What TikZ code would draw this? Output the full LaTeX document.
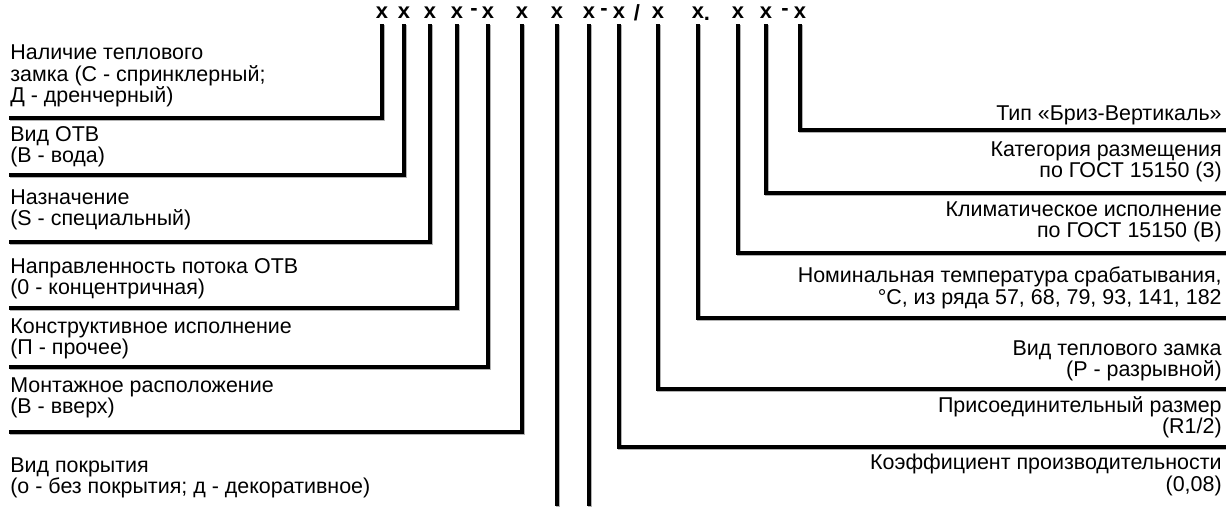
\documentclass[tikz,border=0pt]{standalone}
\usepackage{fontspec}
\setmainfont{Liberation Sans}
\tikzset{
  code/.style={font=\fontsize{12.5}{13}\selectfont\bfseries},
  lbl/.style={anchor=west, align=left, font=\fontsize{12.2}{12.2}\selectfont},
  rlbl/.style={anchor=east, align=right, font=\fontsize{12.2}{12.2}\selectfont},
  lead/.style={line width=2.2pt, line join=miter, preaction={draw=black!30, line width=2.2pt, transform canvas={shift={(0.6pt,-0.6pt)}}}},
}
\begin{document}
\begin{tikzpicture}[scale=0.2]
\tikzstyle{every node}+=[inner sep=0pt]
\useasboundingbox (0,0) rectangle (122.6,-50.6);
% code letters and T tops
\foreach \n/\x in {1/38.2,2/40.4,3/43.0,4/45.7,5/48.8,6/52.2,7/55.7,8/58.9,9/61.9,10/65.8,11/69.8,12/73.8,13/76.6,14/80.0} {
  \node [code] (x\n) at (\x,-1.3) {x};
  \coordinate (t\n) at (\x,-2.6);
  \draw [lead, line width=2.6pt] ([xshift=-6.2pt]t\n) -- ([xshift=6.2pt]t\n);
}
\node [code] (s1) at (47.4,-1.2) {-};
\node [code] (s2) at (60.4,-1.2) {-};
\node [code] (s3) at (63.7,-1.3) {/};
\node [code] (s4) at (70.7,-1.9) {.};
\node [code] (s5) at (78.5,-1.2) {-};
% left labels
\node [lbl] (zamok) at (1.0,-7.6) {Наличие теплового\\замка (С - спринклерный;\\Д - дренчерный)};
\node [lbl] (otv) at (1.0,-14.7) {Вид ОТВ\\(В - вода)};
\node [lbl] (naznach) at (1.0,-21.0) {Назначение\\(S - специальный)};
\node [lbl] (potok) at (1.0,-27.85) {Направленность потока ОТВ\\(0 - концентричная)};
\node [lbl] (konstr) at (1.0,-33.9) {Конструктивное исполнение\\(П - прочее)};
\node [lbl] (montazh) at (1.0,-39.8) {Монтажное расположение\\(В - вверх)};
\node [lbl] (pokr) at (1.0,-47.8) {Вид покрытия\\(о - без покрытия; д - декоративное)};
% right labels
\node [rlbl] (tip) at (122.2,-11.5) {Тип «Бриз-Вертикаль»};
\node [rlbl] (kateg) at (122.2,-16.2) {Категория размещения\\по ГОСТ 15150 (3)};
\node [rlbl] (klimat) at (122.2,-22.2) {Климатическое исполнение\\по ГОСТ 15150 (В)};
\node [rlbl] (temp) at (122.2,-28.8) {Номинальная температура срабатывания,\\°C, из ряда 57, 68, 79, 93, 141, 182};
\node [rlbl] (vidzamka) at (122.2,-36.1) {Вид теплового замка\\(Р - разрывной)};
\node [rlbl] (prisoed) at (122.2,-41.75) {Присоединительный размер\\(R1/2)};
\node [rlbl] (koef) at (122.2,-47.5) {Коэффициент производительности\\(0,08)};
% free ends
\coordinate (e1) at (0.9,-11.8);
\coordinate (e2) at (0.9,-17.5);
\coordinate (e3) at (0.9,-24.2);
\coordinate (e4) at (0.9,-30.8);
\coordinate (e5) at (0.9,-36.7);
\coordinate (e6) at (0.9,-43.2);
\coordinate (e7) at (55.7,-50.6);
\coordinate (e8) at (58.9,-50.6);
\coordinate (e9) at (122.6,-44.7);
\coordinate (e10) at (122.6,-38.9);
\coordinate (e11) at (122.6,-31.8);
\coordinate (e12) at (122.6,-25.3);
\coordinate (e13) at (122.6,-19.3);
\coordinate (e14) at (122.6,-13.0);
% leads
\draw [lead] (t1) |- (e1);
\draw [lead] (t2) |- (e2);
\draw [lead] (t3) |- (e3);
\draw [lead] (t4) |- (e4);
\draw [lead] (t5) |- (e5);
\draw [lead] (t6) |- (e6);
\draw [lead] (t7) -- (e7);
\draw [lead] (t8) -- (e8);
\draw [lead] (t9) |- (e9);
\draw [lead] (t10) |- (e10);
\draw [lead] (t11) |- (e11);
\draw [lead] (t12) |- (e12);
\draw [lead] (t13) |- (e13);
\draw [lead] (t14) |- (e14);
\end{tikzpicture}
\end{document}
